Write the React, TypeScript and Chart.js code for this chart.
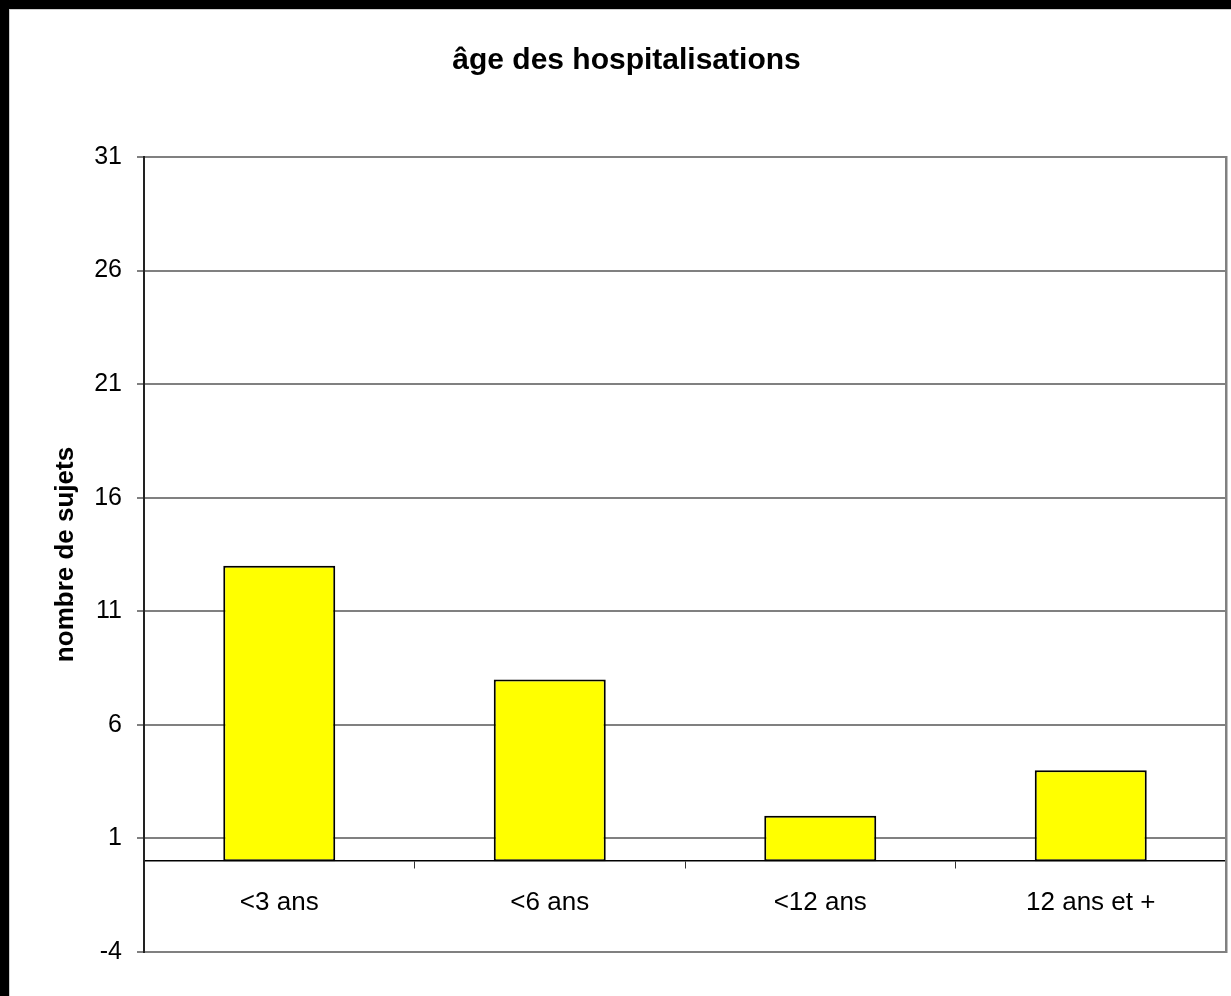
import React, { useEffect, useRef } from "react";
import { Chart, registerables } from "chart.js";

Chart.register(...registerables);

const titleText = "âge des hospitalisations";
const yAxisTitle = "nombre de sujets";
const categories = ["<3 ans", "<6 ans", "<12 ans", "12 ans et +"];
const values = [13, 8, 2, 4];
const yTicks = [-4, 1, 6, 11, 16, 21, 26, 31];

const FONT = "'Liberation Sans', Arial, sans-serif";

export default function App() {
  const ref = useRef<HTMLCanvasElement | null>(null);

  useEffect(() => {
    if (!ref.current) return;
    const chart = new Chart(ref.current, {
      type: "bar",
      data: {
        labels: categories,
        datasets: [
          {
            data: values,
            backgroundColor: "#ffff00",
            borderColor: "#000000",
            borderWidth: 2,
            borderSkipped: false,
            barPercentage: 0.414,
            categoryPercentage: 1,
          },
        ],
      },
      options: {
        responsive: false,
        animation: false,
        layout: { padding: { left: 17, right: 5, top: 0, bottom: 44 } },
        plugins: {
          legend: { display: false },
          tooltip: { enabled: false },
          title: {
            display: true,
            text: titleText,
            color: "#000",
            font: { family: FONT, size: 30, weight: "bold" },
            padding: { top: 33, bottom: 78 },
          },
        },
        scales: {
          x: {
            type: "category",
            position: { y: 0 } as any,
            afterFit: (s: any) => {
              s.height = 0;
            },
            grid: {
              display: true,
              drawOnChartArea: false,
              drawTicks: true,
              tickLength: 7,
              color: "#333",
              lineWidth: 1,
              offset: true,
            },
            border: { display: true, color: "#000", width: 1.5 },
            ticks: {
              color: "#000",
              font: { family: FONT, size: 26 },
              padding: 19,
              maxRotation: 0,
              autoSkip: false,
            },
          },
          y: {
            type: "linear",
            position: "left",
            min: -4,
            max: 31,
            afterBuildTicks: (s: any) => {
              s.ticks = yTicks.map((v) => ({ value: v }));
            },
            afterFit: (s: any) => {
              s.width = 117;
            },
            grid: {
              color: "#808080",
              lineWidth: 2,
              tickLength: 7,
              tickColor: "#808080",
            },
            border: { display: true, color: "#222", width: 2 },
            ticks: {
              color: "#000",
              font: { family: FONT, size: 25 },
              padding: 15,
            },
            title: {
              display: true,
              text: yAxisTitle,
              color: "#000",
              font: { family: FONT, size: 26, weight: "bold" },
              padding: { top: 23.4, bottom: 0 },
            },
          },
          y2: {
            type: "linear",
            position: "right",
            min: -4,
            max: 31,
            afterFit: (s: any) => {
              s.width = 0;
            },
            grid: { display: false, drawTicks: false },
            ticks: { display: false },
            border: { display: true, color: "#808080", width: 2.5 },
          },
        },
      },
    });
    return () => chart.destroy();
  }, []);

  return (
    <div
      style={{
        position: "fixed",
        left: 0,
        top: 0,
        width: 1231,
        height: 996,
        boxSizing: "border-box",
        background: "#fff",
        borderLeft: "9px solid #000",
        borderTop: "9px solid #000",
      }}
    >
      <div
        style={{
          width: 1222,
          height: 987,
          boxSizing: "border-box",
          borderLeft: "1px solid #cfcfcf",
          borderTop: "1px solid #cfcfcf",
        }}
      >
        <canvas
          ref={ref}
          width={1221}
          height={986}
          style={{ display: "block", width: 1221, height: 986 }}
        />
      </div>
    </div>
  );
}
